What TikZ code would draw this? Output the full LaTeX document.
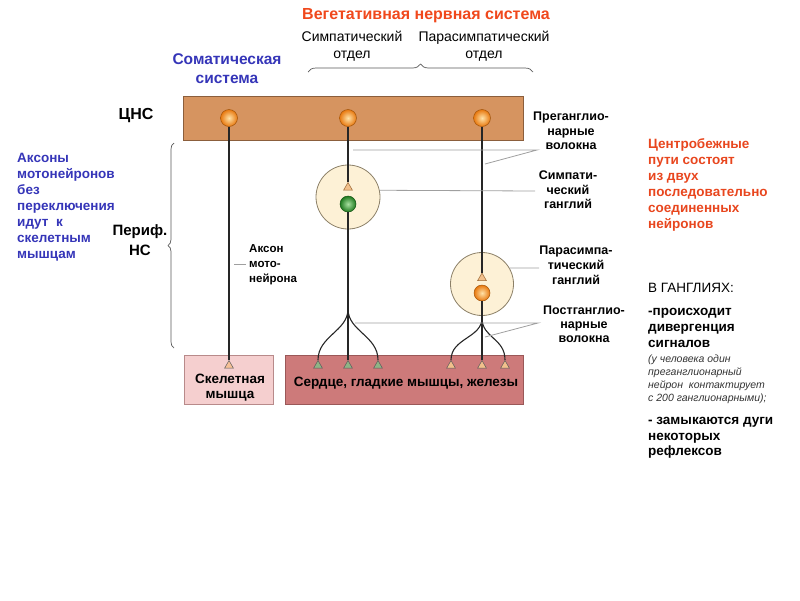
\documentclass[tikz,border=0pt]{standalone}
\usepackage{fontspec}
\setmainfont{Liberation Sans}
\usetikzlibrary{shapes.geometric,decorations.pathreplacing}
\definecolor{cnsfill}{HTML}{D69460}
\definecolor{cnsdraw}{HTML}{8B5E3C}
\definecolor{skelfill}{HTML}{F5CFCF}
\definecolor{skeldraw}{HTML}{B88A8A}
\definecolor{viscfill}{HTML}{CD7A7A}
\definecolor{viscdraw}{HTML}{9A5858}
\definecolor{ganfill}{HTML}{FDF1D6}
\definecolor{gandraw}{HTML}{8C8068}
\definecolor{somablue}{HTML}{3535B8}
\definecolor{redtext}{HTML}{E8461E}
\definecolor{titlered}{HTML}{F0481C}
\definecolor{termor}{HTML}{F2C08C}
\definecolor{termgr}{HTML}{8FB486}
\definecolor{orin}{HTML}{FFE2A8}
\definecolor{orout}{HTML}{E8780E}
\definecolor{grin}{HTML}{A8E0A0}
\definecolor{grout}{HTML}{1E7A1E}
\newcommand\myfs[2]{\fontsize{#1}{#2}\selectfont}
\tikzset{
  box/.style={draw, line width=0.8pt, inner sep=0pt},
  ganglion/.style={circle, draw=gandraw, fill=ganfill, line width=0.8pt, inner sep=0pt},
  soma/.style={circle, inner sep=0pt, minimum size=17pt, draw=#1!70!black, line width=0.5pt, shading=radial, inner color=orin, outer color=#1},
  gsoma/.style={circle, inner sep=0pt, minimum size=16pt, draw=grout!70!black, line width=0.5pt, shading=radial, inner color=grin, outer color=grout},
  term/.style={regular polygon, regular polygon sides=3, minimum size=10pt, inner sep=0pt, draw=black!65, line width=0.5pt, fill=#1},
  axon/.style={draw=black!85, line width=1.1pt},
  leader/.style={draw=gray!75, line width=0.8pt},
  bracestyle/.style={draw=gray!70!black, line width=0.7pt, decorate},
  lbl/.style={font=\bfseries\myfs{12.5}{14.5}, align=center, inner sep=0pt},
  head/.style={font=\myfs{14}{17}, align=center, inner sep=0pt},
  note/.style={font=\bfseries\myfs{13.5}{16}, align=left, inner sep=0pt, anchor=west},
}
\begin{document}
\begin{tikzpicture}[x=1pt,y=-1pt]
\useasboundingbox (0,0) rectangle (800,600);
% boxes
\node[box, draw=cnsdraw, fill=cnsfill, minimum width=340pt, minimum height=44pt] (cns) at (353,118) {};
\node[box, draw=skeldraw, fill=skelfill, minimum width=89pt, minimum height=49pt] (skel) at (228.5,379.5) {};
\node[box, draw=viscdraw, fill=viscfill, minimum width=238pt, minimum height=49pt] (visc) at (404,379.5) {};
% ganglia
\node[ganglion, minimum size=64pt] (sg) at (348,197) {};
\node[ganglion, minimum size=63pt] (pg) at (482,284) {};
% somas
\node[soma=orout] (c1) at (229,118) {};
\node[soma=orout] (c2) at (348,118) {};
\node[soma=orout] (c3) at (482,118) {};
\node[gsoma] (g1) at (348,204) {};
\node[soma=orout, minimum size=16pt] (g2) at (482,293) {};
% terminals in ganglia
\node[term=termor, draw=brown!80!black] (st) at (348,187.5) {};
\node[term=termor, draw=brown!80!black] (pt) at (482,278) {};
% terminals on effectors
\node[term=termor!80!pink] (ts0) at (229,365.5) {};
\node[term=termgr] (ts1) at (318,365.5) {};
\node[term=termgr] (ts2) at (348,365.5) {};
\node[term=termgr] (ts3) at (378,365.5) {};
\node[term=termor] (tp1) at (451,365.5) {};
\node[term=termor] (tp2) at (482,365.5) {};
\node[term=termor] (tp3) at (505,365.5) {};
% axons
\draw[axon] (c1) -- (ts0);
\draw[axon] (c2) -- (st);
\draw[axon] (c3) -- (pt);
\draw[axon] (g1) -- (ts2);
\draw[axon] (g2) -- (tp2);
\coordinate (sb) at (348,309);
\coordinate (pb) at (482,318);
\draw[axon] (sb) .. controls +(0,22) and +(0,-24) .. (ts1.north);
\draw[axon] (sb) .. controls +(0,22) and +(0,-24) .. (ts3.north);
\draw[axon] (pb) .. controls +(0,20) and +(0,-22) .. (tp1.north);
\draw[axon] (pb) .. controls +(0,20) and +(0,-22) .. (tp3.north);
% leader lines
\coordinate (preA) at (353,150);
\coordinate (preB) at (485,164);
\coordinate (preE) at (537,150);
\draw[leader] (preA) -- (preE) -- (preB);
\coordinate (sgE) at (535,191);
\draw[leader] (sg.12) -- (sgE);
\coordinate (pgE) at (539,268);
\draw[leader] (pg.30) -- (pgE);
\coordinate (postA) at (355,323);
\coordinate (postB) at (485,337);
\coordinate (postE) at (538,323);
\draw[leader] (postA) -- (postE) -- (postB);
\coordinate (axA) at (234,264);
\coordinate (axE) at (246,264);
\draw[leader] (axA) -- (axE);
% braces
\coordinate (brL) at (308,72);
\coordinate (brR) at (533,72);
\draw[bracestyle, decoration={brace, amplitude=8pt}] (brL) -- (brR);
\coordinate (bpB) at (174,348);
\coordinate (bpT) at (174,143);
\draw[bracestyle, decoration={brace, amplitude=6pt}] (bpB) -- (bpT);
% texts
\node[font=\bfseries\myfs{16}{19}, text=titlered, inner sep=0pt] (title) at (426,16) {Вегетативная нервная система};
\node[head] (symh) at (352,46.5) {Симпатический\\отдел};
\node[head] (parh) at (484,46.5) {Парасимпатический\\отдел};
\node[font=\bfseries\myfs{15.5}{19}, text=somablue, align=center, inner sep=0pt] (somh) at (227,68.5) {Соматическая\\система};
\node[font=\bfseries\myfs{16}{19}, inner sep=0pt] (cnsl) at (136,116) {ЦНС};
\node[font=\bfseries\myfs{15}{20}, align=center, inner sep=0pt] (pnsl) at (140,240) {Периф.\\НС};
\node[note, text=somablue] (blue) at (17,207.5) {Аксоны\\мотонейронов\\без\\переключения\\идут\ \ к\\скелетным\\мышцам};
\node[note, text=redtext] (red) at (648,185) {Центробежные\\пути состоят\\из двух\\последовательно\\соединенных\\нейронов};
\node[font=\myfs{13.5}{16}, anchor=west, inner sep=0pt] (gang) at (648,288) {В ГАНГЛИЯХ:};
\node[note] (div) at (648,328) {-происходит\\дивергенция\\сигналов};
\node[font=\itshape\myfs{10.5}{13}, align=left, anchor=west, inner sep=0pt, text=black!80] (ital) at (648,379.5) {(у человека один\\преганглионарный\\нейрон\ \ контактирует\\с 200 ганглионарными);};
\node[note, font=\bfseries\myfs{13.5}{15.5}] (refl) at (648,438) {- замыкаются дуги\\некоторых\\рефлексов};
\node[lbl] (prel) at (571,131) {Преганглио-\\нарные\\волокна};
\node[lbl] (syml) at (568,190) {Симпати-\\ческий\\ганглий};
\node[lbl, font=\bfseries\myfs{12.5}{15}] (paral) at (576,265) {Парасимпа-\\тический\\ганглий};
\node[lbl, font=\bfseries\myfs{12.5}{14}] (postl) at (584,324) {Постганглио-\\нарные\\волокна};
\node[font=\bfseries\myfs{11.5}{15}, align=left, anchor=west, inner sep=0pt] (axl) at (249,265) {Аксон\\мото-\\нейрона};
\node[font=\bfseries\myfs{13.5}{15}, align=center, inner sep=0pt] (skell) at (230,388) {Скелетная\\мышца};
\node[font=\bfseries\myfs{13.5}{15}, inner sep=0pt] (viscl) at (406,383) {Сердце, гладкие мышцы, железы};
\end{tikzpicture}
\end{document}
